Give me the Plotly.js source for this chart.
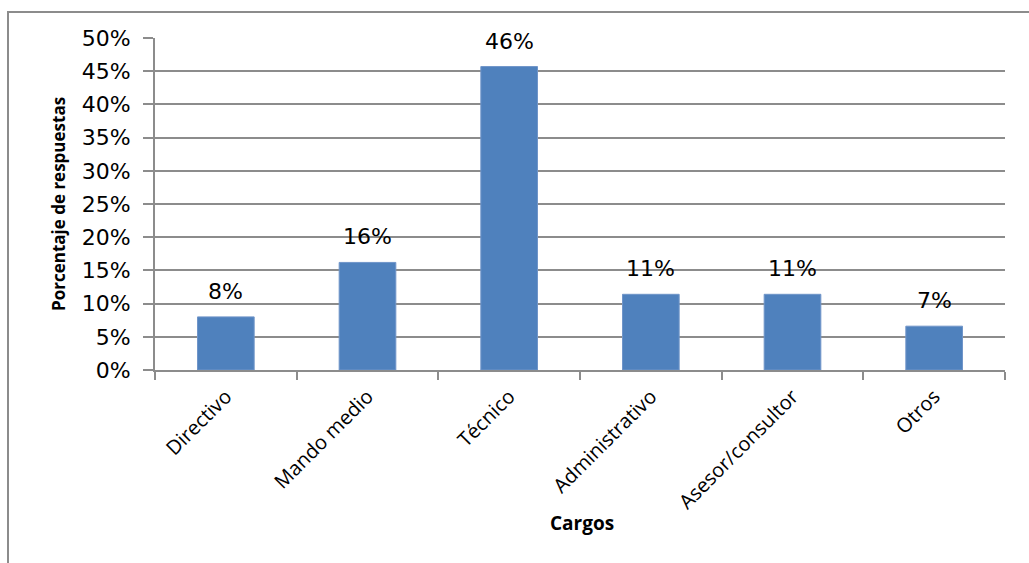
<!DOCTYPE html>
<html>
<head>
<meta charset="utf-8">
<script src="https://cdn.plot.ly/plotly-3.0.1.min.js"></script>
<style>
  html, body { margin: 0; padding: 0; background: #ffffff; }
  #wrap { position: relative; width: 1029px; height: 563px; overflow: hidden; }
  #chart { position: absolute; left: 0; top: 0; width: 1029px; height: 563px; }
  #frame {
    position: absolute; left: 7px; top: 11px; width: 1030px; height: 560px;
    border-left: 2px solid #8c8c8c; border-top: 2px solid #8c8c8c;
    pointer-events: none;
  }
</style>
</head>
<body>
<div id="wrap">
  <div id="chart"></div>
  <div id="frame"></div>
</div>
<script>
// Share of responses by job role
const cargos = ['Directivo', 'Mando medio', 'Técnico', 'Administrativo', 'Asesor/consultor', 'Otros'];
const porcentajes = [0.080, 0.162, 0.457, 0.114, 0.114, 0.066];
const yTicks = [0, 0.05, 0.10, 0.15, 0.20, 0.25, 0.30, 0.35, 0.40, 0.45, 0.50];

const numFont = 'DejaVu Sans, Verdana, sans-serif';
const txtFont = 'Open Sans, Noto Sans, sans-serif';
const gridGray = '#8c8c8c';

const bars = {
  type: 'bar',
  x: cargos,
  y: porcentajes,
  marker: { color: '#4f81bd', line: { color: '#7095c9', width: 1 } },
  hoverinfo: 'x+y'
};

// Value labels above each bar
const valueLabels = cargos.map((c, i) => ({
  x: c, y: porcentajes[i], xref: 'x', yref: 'y',
  text: Math.round(porcentajes[i] * 100) + '%',
  showarrow: false, yanchor: 'bottom', yshift: 11,
  font: { family: numFont, size: 22, color: '#000000' }
}));

const axisTitles = [
  {
    text: '<b>Porcentaje de respuestas</b>', xref: 'paper', yref: 'paper',
    x: 0, y: 0.5, xanchor: 'center', yanchor: 'middle', xshift: -97,
    textangle: -90, showarrow: false,
    font: { family: txtFont, size: 17, color: '#000000' }
  },
  {
    text: '<b>Cargos</b>', xref: 'paper', yref: 'paper',
    x: 0.5, y: 0, xanchor: 'center', yanchor: 'middle', xshift: 2, yshift: -153,
    showarrow: false,
    font: { family: txtFont, size: 19, color: '#000000' }
  }
];

const layout = {
  width: 1029, height: 563,
  margin: { l: 155, r: 24, t: 38, b: 193, pad: 0 },
  paper_bgcolor: 'rgba(0,0,0,0)',
  plot_bgcolor: '#ffffff',
  showlegend: false,
  bargap: 0.6,
  xaxis: {
    type: 'category',
    tickangle: -45,
    tickson: 'boundaries',
    ticks: 'outside', ticklen: 8, tickwidth: 2, tickcolor: gridGray,
    showline: true, linecolor: gridGray, linewidth: 2,
    showgrid: false, zeroline: false,
    ticklabelstandoff: 5,
    tickfont: { family: txtFont, size: 20, color: '#000000' }
  },
  yaxis: {
    range: [0, 0.5],
    tickvals: yTicks,
    tickformat: '.0%',
    ticks: 'outside', ticklen: 10, tickwidth: 2, tickcolor: gridGray,
    showline: true, linecolor: gridGray, linewidth: 2,
    showgrid: true, gridcolor: gridGray, gridwidth: 2,
    zeroline: false,
    ticklabelstandoff: 8,
    tickfont: { family: numFont, size: 22, color: '#000000' }
  },
  annotations: valueLabels.concat(axisTitles)
};

Plotly.newPlot('chart', [bars], layout, { displayModeBar: false, staticPlot: true });
</script>
</body>
</html>
